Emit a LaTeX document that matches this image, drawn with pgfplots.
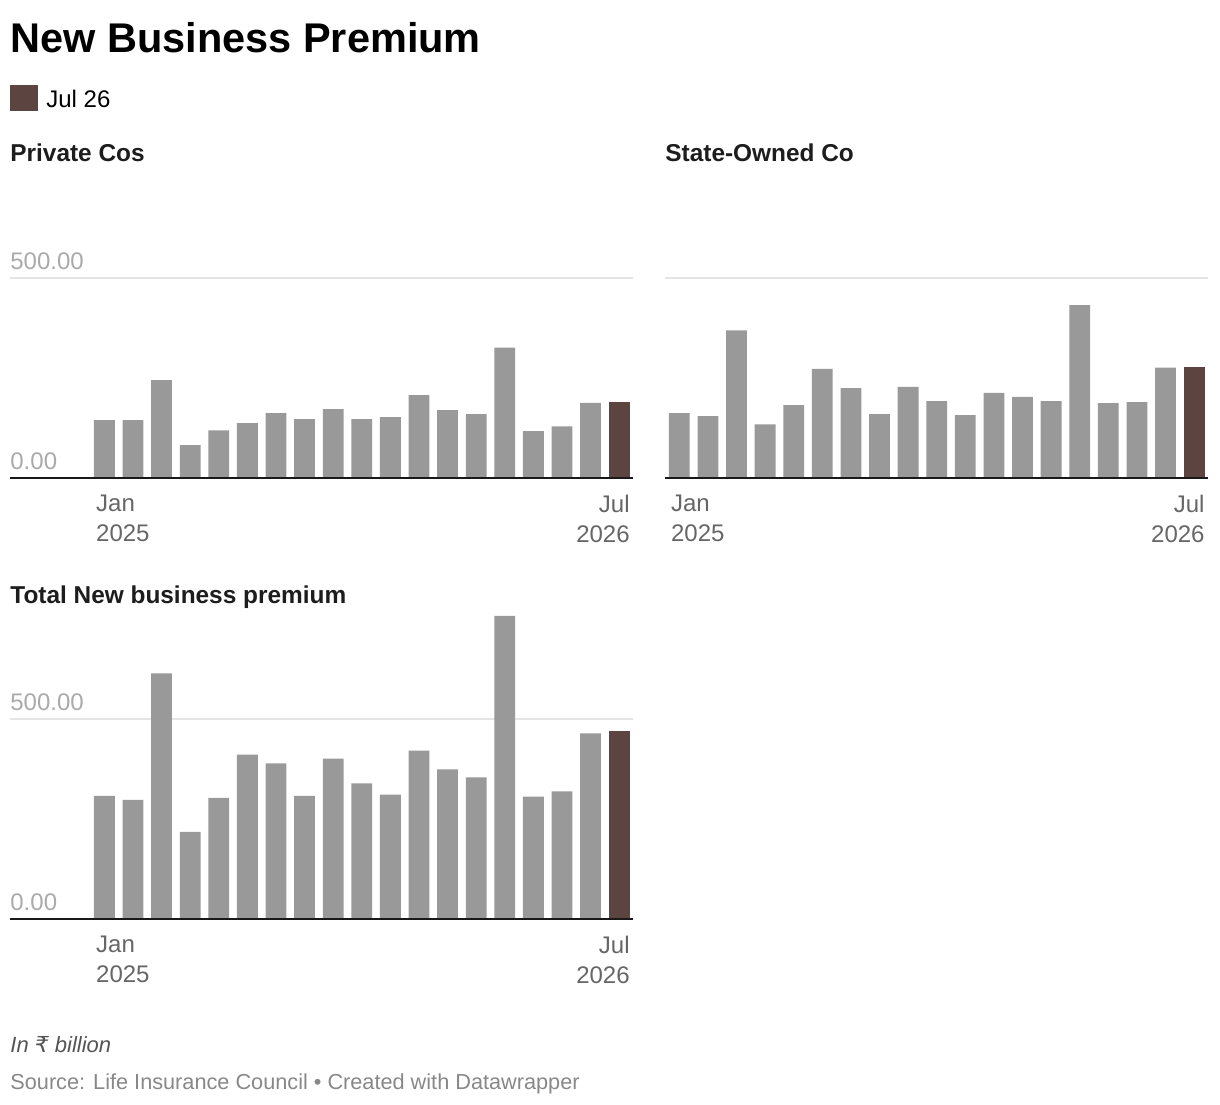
\documentclass[border=0pt]{standalone}
\usepackage{pgfplots}
\pgfplotsset{compat=1.18}
\usepackage{fontspec}
\setmainfont{Liberation Sans}
\newfontfamily\dejavu{DejaVu Sans}
\definecolor{barg}{HTML}{999999}
\definecolor{barb}{HTML}{5C4540}
\definecolor{gridc}{HTML}{E5E5E5}
\definecolor{ytc}{HTML}{AAAAAA}
\definecolor{xtc}{HTML}{666666}
\definecolor{ttl}{HTML}{1D1D1D}
\definecolor{notec}{HTML}{555555}
\definecolor{srcc}{HTML}{888888}
\pgfplotsset{panel/.style={
  anchor=south west, x=14.3pt, y=0.2pt, ymin=0, xmax=18.5,
  axis line style={draw=none}, major tick length=0pt, tick style={draw=none},
  clip=false,
  ytick={0,500}, ymajorgrids, major grid style={draw=gridc, line width=1pt},
  yticklabel style={anchor=base west, inner sep=0pt, yshift=4.5pt, text=ytc, font=\fontsize{12}{14}\selectfont},
  xtick={-0.3}, xticklabels={{Jan\\2025}},
  extra x ticks={18.38}, extra x tick labels={{Jul\\2026}},
  xticklabel style={align=left, anchor=north west, inner sep=0pt, yshift=-8.5pt, text=xtc, font=\fontsize{12}{15}\selectfont},
  extra x tick style={xticklabel style={align=right, anchor=north east}},
}}
\begin{document}
\begin{tikzpicture}
\useasboundingbox (0,0) rectangle (610pt,-552pt);
\fill[white] (0,0) rectangle (610pt,-552pt);
\node[anchor=base west, inner sep=0pt, font=\bfseries\fontsize{20.75}{24}\selectfont, text=black] at (5pt,-26pt) {New Business Premium};
\node[anchor=base west, inner sep=0pt, font=\bfseries\fontsize{12.2}{14}\selectfont, text=ttl] at (5pt,-80.5pt) {Private Cos};
\node[anchor=base west, inner sep=0pt, font=\bfseries\fontsize{12.2}{14}\selectfont, text=ttl] at (332.5pt,-80.5pt) {State-Owned Co};
\node[anchor=base west, inner sep=0pt, font=\bfseries\fontsize{12.2}{14}\selectfont, text=ttl] at (5pt,-301.5pt) {Total New business premium};
\node[anchor=base west, inner sep=0pt, font=\itshape\fontsize{11}{13}\selectfont, text=notec] at (5pt,-526pt) {In {\dejavu\itshape ₹} billion};
\node[anchor=base west, inner sep=0pt, font=\fontsize{10.85}{13}\selectfont, text=srcc] at (5pt,-544.5pt) {Source: Life Insurance Council • Created with Datawrapper};

% Panel 1: Private Cos
\begin{axis}[panel, at={(5pt,-239pt)}, xmin=-3.3, ymax=500,
  yticklabels={0.00,500.00},
  legend style={at={(rel axis cs:0,1.965)}, anchor=north west, draw=none, fill=none, inner sep=0pt, font=\fontsize{12}{14}\selectfont},
  legend cell align=left,
  legend image code/.code={\fill[barb] (0pt,-5.5pt) rectangle (14pt,7.5pt); \path (16pt,0pt);},
]
\addplot[ybar, bar width=10.4pt, bar shift=0pt, fill=barg, draw=none, forget plot] coordinates {
(0,144.5) (1,144.5) (2,245) (3,82) (4,119) (5,137) (6,162) (7,147) (8,172) (9,147)
(10,152) (11,207) (12,170) (13,160) (14,326) (15,117) (16,129) (17,188)};
\addplot[ybar, bar width=10.4pt, bar shift=0pt, fill=barb, draw=none] coordinates {(18,189)};
\addlegendentry{Jul 26}
\draw[black!90, line width=1.2pt] (rel axis cs:0,0) -- (rel axis cs:1,0);
\end{axis}

% Panel 2: State-Owned Co
\begin{axis}[panel, at={(332.5pt,-239pt)}, xmin=-0.5, ymax=500,
  yticklabels={,},
]
\addplot[ybar, bar width=10.4pt, bar shift=0pt, fill=barg, draw=none] coordinates {
(0,162) (1,155) (2,369) (3,134) (4,182) (5,273) (6,225) (7,160) (8,228) (9,192)
(10,157) (11,213) (12,203) (13,192) (14,432) (15,187) (16,190) (17,276)};
\addplot[ybar, bar width=10.4pt, bar shift=0pt, fill=barb, draw=none] coordinates {(18,278)};
\draw[black!90, line width=1.2pt] (rel axis cs:0,0) -- (rel axis cs:1,0);
\end{axis}

% Panel 3: Total
\begin{axis}[panel, at={(5pt,-459.5pt)}, xmin=-3.3, ymax=800,
  yticklabels={0.00,500.00},
]
\addplot[ybar, bar width=10.4pt, bar shift=0pt, fill=barg, draw=none] coordinates {
(0,308) (1,298) (2,614) (3,218) (4,303) (5,411) (6,389) (7,308) (8,401) (9,339)
(10,311) (11,421) (12,374) (13,354) (14,758) (15,306) (16,319) (17,464)};
\addplot[ybar, bar width=10.4pt, bar shift=0pt, fill=barb, draw=none] coordinates {(18,469)};
\draw[black!90, line width=1.2pt] (rel axis cs:0,0) -- (rel axis cs:1,0);
\end{axis}
\end{tikzpicture}
\end{document}
